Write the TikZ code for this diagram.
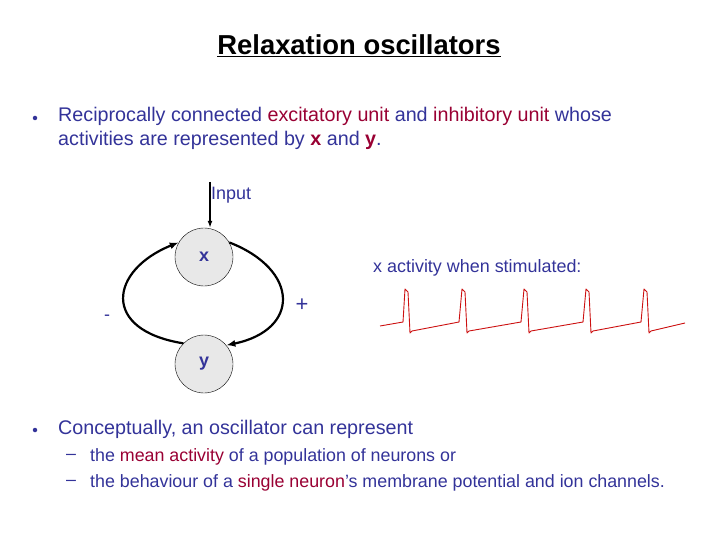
\documentclass[tikz,border=0pt]{standalone}
\usepackage{fontspec}
\setmainfont{Liberation Sans}
\usetikzlibrary{arrows.meta}
\definecolor{navy}{HTML}{333399}
\definecolor{dred}{HTML}{990033}
\definecolor{wave}{HTML}{CC1111}
\tikzset{
  unit/.style={circle,draw=black,thin,fill=gray!18,minimum size=58bp,inner sep=0pt,text=navy,font=\fontsize{18}{20}\selectfont\bfseries},
  lbl/.style={text=navy,font=\fontsize{18}{20}\selectfont,inner sep=0pt},
  body/.style={text=navy,font=\fontsize{19.8}{24}\selectfont,inner sep=0pt,anchor=north west,align=left},
  dot/.style={circle,fill=navy,inner sep=0pt,minimum size=4.5bp},
  sub/.style={text=navy,font=\fontsize{17.9}{20}\selectfont,inner sep=0pt,anchor=west},
  link/.style={line width=2.2bp,-{Latex[length=9bp,width=7bp]}}
}
\begin{document}
\begin{tikzpicture}[x=1bp,y=-1bp]
\useasboundingbox (0,0) rectangle (720,540);
\node[font=\fontsize{27.5}{30}\selectfont\bfseries,inner sep=0pt] (title) at (359,46) {\underline{Relaxation oscillators}};
\node[dot] (b1dot) at (35,118) {};
\node[body] (b1) at (58,107) {Reciprocally connected \textcolor{dred}{excitatory unit} and \textcolor{dred}{inhibitory unit} whose\\activities are represented by \textcolor{dred}{\bfseries x} and \textcolor{dred}{\bfseries y}.};
\node[unit] (x) at (204,257) {x};
\node[unit] (y) at (204,364) {y};
\node[lbl,anchor=west] (inp) at (211,195) {Input};
\coordinate (src) at (210,182);
\draw[line width=1.5bp,-{Latex[length=7bp,width=5bp]}] (src) -- (x.north -| src);
\draw[link] (y.135) .. controls (100,330) and (110,270) .. (x.150);
\draw[link] (x.30) .. controls (300,270) and (300,330) .. (y.40);
\node[lbl] (minus) at (107,318) {-};
\node[lbl,font=\fontsize{22}{24}\selectfont] (plus) at (302,305) {+};
\node[lbl,anchor=west] (act) at (373,268) {x activity when stimulated:};
\draw[wave,line width=0.9bp,line join=round] (380,326) -- (403,322) -- (405,289) -- (408,292) -- (410,333)
  -- (412,331) -- (459,322) -- (462,289) -- (465,292) -- (467,333)
  -- (469,331) -- (521,322) -- (524,289) -- (527,292) -- (529,333)
  -- (531,331) -- (583,322) -- (586,289) -- (589,292) -- (591,333)
  -- (593,331) -- (641,322) -- (644,289) -- (647,292) -- (649,333)
  -- (651,331) -- (685,323);
\node[dot] (b2dot) at (35,430) {};
\node[body] (b2) at (58,420) {Conceptually, an oscillator can represent};
\node[sub] (d1) at (66,457) {–};
\node[sub] (s1) at (90,457) {the \textcolor{dred}{mean activity} of a population of neurons or};
\node[sub] (d2) at (66,483) {–};
\node[sub] (s2) at (90,483) {the behaviour of a \textcolor{dred}{single neuron}’s membrane potential and ion channels.};
\end{tikzpicture}
\end{document}
